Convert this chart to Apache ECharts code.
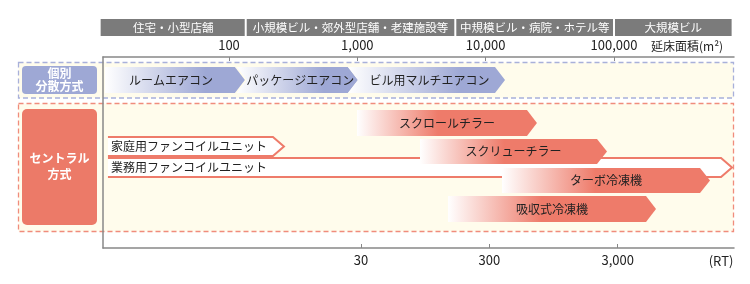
<!DOCTYPE html>
<html><head><meta charset="utf-8">
<script src="https://cdn.jsdelivr.net/npm/echarts@6/dist/echarts.min.js"></script>
<style>html,body{margin:0;padding:0;background:#fff}#c{width:750px;height:284px}</style>
</head><body><div id="c"></div>
<script>
// ---- data ----
const areaTicks = [100, 1000, 10000, 100000];
const areaTickLabels = ['100', '1,000', '10,000', '100,000'];
const rtTicks = [30, 300, 3000];
const rtTickLabels = ['30', '300', '3,000'];
const buildingTypes = ['住宅・小型店舗', '小規模ビル・郊外型店舗・老建施設等', '中規模ビル・病院・ホテル等', '大規模ビル'];
const buildingBounds = [10, 135, 5800, 100000, 840000];
const individualNames = ['ルームエアコン', 'パッケージエアコン', 'ビル用マルチエアコン'];
const individualFrom = [10.8, 115, 846];
const individualTo = [133, 1010, 14150];
const chillerNames = ['スクロールチラー', 'スクリューチラー', 'ターボ冷凍機', '吸収式冷凍機'];
const chillerFrom = [994, 3080, 13400, 5090];
const chillerTo = [25100, 88200, 560000, 212500];
const fanCoilNames = ['家庭用ファンコイルユニット', '業務用ファンコイルユニット'];
const fanCoilFrom = [11.4, 11.4];
const fanCoilTo = [268, 831000];

// ---- layout (lanes: top/bottom on hidden y scale, px offset from plot top) ----
const layout = {
  header: [-38, -21],
  individual: [10, 36],
  chillers: [[53, 79], [82, 107], [111, 136], [139, 165]],
  fanCoils: [[80, 99], [101, 120]]
};
const FONT = '"Noto Sans CJK JP", "Noto Sans", sans-serif';
const BLUE = '#9ea8d5', RED = '#ee7b6a', GRAY = '#7b7b7b', CREAM = '#fffcec';
const areaMin = 10.43, areaMax = 861000, K = 35.6;

function arrowPts(x0, x1, y0, y1, head, notch) {
  const ym = (y0 + y1) / 2;
  const p = [[x0, y0], [x1 - head, y0], [x1, ym], [x1 - head, y1], [x0, y1]];
  if (notch) p.push([x0 + head, ym]);
  return p;
}
function grad(c, stop) {
  return {type: 'linear', x: 0, y: 0, x2: 1, y2: 0,
    colorStops: [{offset: 0, color: '#ffffff'}, {offset: stop, color: c}, {offset: 1, color: c}]};
}

const indivData = individualNames.map((n, i) => [individualFrom[i], individualTo[i], layout.individual[0], layout.individual[1], i]);
const chillerData = chillerNames.map((n, i) => [chillerFrom[i], chillerTo[i], layout.chillers[i][0], layout.chillers[i][1], i]);
const fanData = fanCoilNames.map((n, i) => [fanCoilFrom[i], fanCoilTo[i], layout.fanCoils[i][0], layout.fanCoils[i][1], i]);
const headerData = buildingTypes.map((n, i) => [buildingBounds[i], buildingBounds[i + 1], layout.header[0], layout.header[1], i]);

function ends(api) {
  const a = api.coord([api.value(0), api.value(2)]);
  const b = api.coord([api.value(1), api.value(3)]);
  return [a[0], b[0], a[1], b[1]];
}

const chart = echarts.init(document.getElementById('c'), null, {renderer: 'canvas'});
chart.setOption({
  animation: false,
  grid: {left: 103, right: 16, top: 57, bottom: 36},
  xAxis: [
    {type: 'log', position: 'top', min: areaMin, max: areaMax,
     axisLine: {show: true, onZero: false, lineStyle: {color: '#888', width: 1.5}},
     axisTick: {show: true, inside: true, length: 4, customValues: areaTicks, lineStyle: {color: '#888'}},
     axisLabel: {customValues: areaTicks, margin: 5, color: '#222', fontSize: 13, fontFamily: FONT,
       formatter: v => areaTickLabels[areaTicks.findIndex(t => Math.abs(t - v) / t < 1e-6)] || ''},
     splitLine: {show: false}},
    {type: 'log', position: 'bottom', min: areaMin / K, max: areaMax / K,
     axisLine: {show: true, onZero: false, lineStyle: {color: '#888', width: 1.5}},
     axisTick: {show: true, inside: true, length: 4, customValues: rtTicks, lineStyle: {color: '#888'}},
     axisLabel: {customValues: rtTicks, margin: 6, color: '#222', fontSize: 13, fontFamily: FONT,
       formatter: v => rtTickLabels[rtTicks.findIndex(t => Math.abs(t - v) / t < 1e-6)] || ''},
     splitLine: {show: false}}
  ],
  yAxis: {type: 'value', inverse: true, min: 0, max: 191,
    axisLine: {show: true, onZero: false, lineStyle: {color: '#888', width: 1.5}},
    axisTick: {show: false}, axisLabel: {show: false}, splitLine: {show: false}},
  graphic: [
    {type: 'rect', z: -5, shape: {x: 18.5, y: 62.5, width: 715, height: 35.5},
     style: {fill: CREAM, stroke: '#a8b0da', lineWidth: 1.3, lineDash: [5, 3]}},
    {type: 'rect', z: -5, shape: {x: 18.5, y: 103.5, width: 715, height: 128},
     style: {fill: CREAM, stroke: '#f08c7c', lineWidth: 1.3, lineDash: [5, 3]}},
    {type: 'rect', z: 1, shape: {x: 22, y: 66, width: 75, height: 28, r: 4}, style: {fill: BLUE}},
    {type: 'text', z: 2, style: {x: 59.5, y: 80, text: '個別\n分散方式', fill: '#fff', font: 'bold 12px ' + FONT,
      align: 'center', verticalAlign: 'middle', lineHeight: 13}},
    {type: 'rect', z: 1, shape: {x: 22, y: 109, width: 75, height: 116, r: 5}, style: {fill: '#ec7a68'}},
    {type: 'text', z: 2, style: {x: 59.5, y: 166, text: 'セントラル\n方式', fill: '#fff', font: 'bold 12px ' + FONT,
      align: 'center', verticalAlign: 'middle', lineHeight: 16}},
    {type: 'text', z: 2, style: {x: 651, y: 46, text: '延床面積(m²)', fill: '#222', font: '12px ' + FONT,
      align: 'left', verticalAlign: 'middle'}},
    {type: 'text', z: 2, style: {x: 721, y: 261, text: '(RT)', fill: '#222', font: '13px ' + FONT,
      align: 'center', verticalAlign: 'middle'}}
  ],
  series: [
    {type: 'custom', name: 'header', clip: false, data: headerData,
     renderItem: (p, api) => {
       const [x0, x1, y0, y1] = ends(api);
       const i = api.value(4);
       return {type: 'group', children: [
         {type: 'rect', shape: {x: x0 + (i > 0 ? 1 : 0), y: y0, width: x1 - x0 - (i > 0 ? 2 : 1), height: y1 - y0}, style: {fill: GRAY}},
         {type: 'text', style: {x: (x0 + x1) / 2, y: (y0 + y1) / 2 + 0.5, text: buildingTypes[i], fill: '#fff',
           font: '11.5px ' + FONT, align: 'center', verticalAlign: 'middle'}}
       ]};
     }},
    {type: 'custom', name: 'individual', clip: false, data: indivData,
     renderItem: (p, api) => {
       const [x0, x1, y0, y1] = ends(api);
       const i = api.value(4);
       return {type: 'group', children: [
         {type: 'polygon', shape: {points: arrowPts(x0, x1, y0, y1, 10, i > 0)}, style: {fill: grad(BLUE, 0.72)}},
         {type: 'text', style: {x: (x0 + x1) / 2 + (i > 0 ? 3 : -4), y: (y0 + y1) / 2, text: individualNames[i], fill: '#222',
           font: '12px ' + FONT, align: 'center', verticalAlign: 'middle'}}
       ]};
     }},
    {type: 'custom', name: 'fancoil', clip: false, data: fanData,
     renderItem: (p, api) => {
       const [x0, x1, y0, y1] = ends(api);
       const i = api.value(4);
       const pts = arrowPts(x0, x1, y0, y1, 11, false);
       return {type: 'group', children: [
         {type: 'polygon', shape: {points: pts}, style: {fill: '#fff'}},
         {type: 'polyline', shape: {points: pts}, style: {fill: null, stroke: RED, lineWidth: 2}},
         {type: 'text', style: {x: x0 + 3, y: (y0 + y1) / 2, text: fanCoilNames[i], fill: '#222',
           font: '12px ' + FONT, align: 'left', verticalAlign: 'middle'}}
       ]};
     }},
    {type: 'custom', name: 'chillers', clip: false, data: chillerData,
     renderItem: (p, api) => {
       const [x0, x1, y0, y1] = ends(api);
       const i = api.value(4);
       return {type: 'group', children: [
         {type: 'polygon', shape: {points: arrowPts(x0, x1, y0, y1, 10, false)}, style: {fill: grad(RED, 0.45)}},
         {type: 'text', style: {x: (x0 + x1) / 2, y: (y0 + y1) / 2, text: chillerNames[i], fill: '#222',
           font: '12px ' + FONT, align: 'center', verticalAlign: 'middle'}}
       ]};
     }}
  ]
});
</script></body></html>
